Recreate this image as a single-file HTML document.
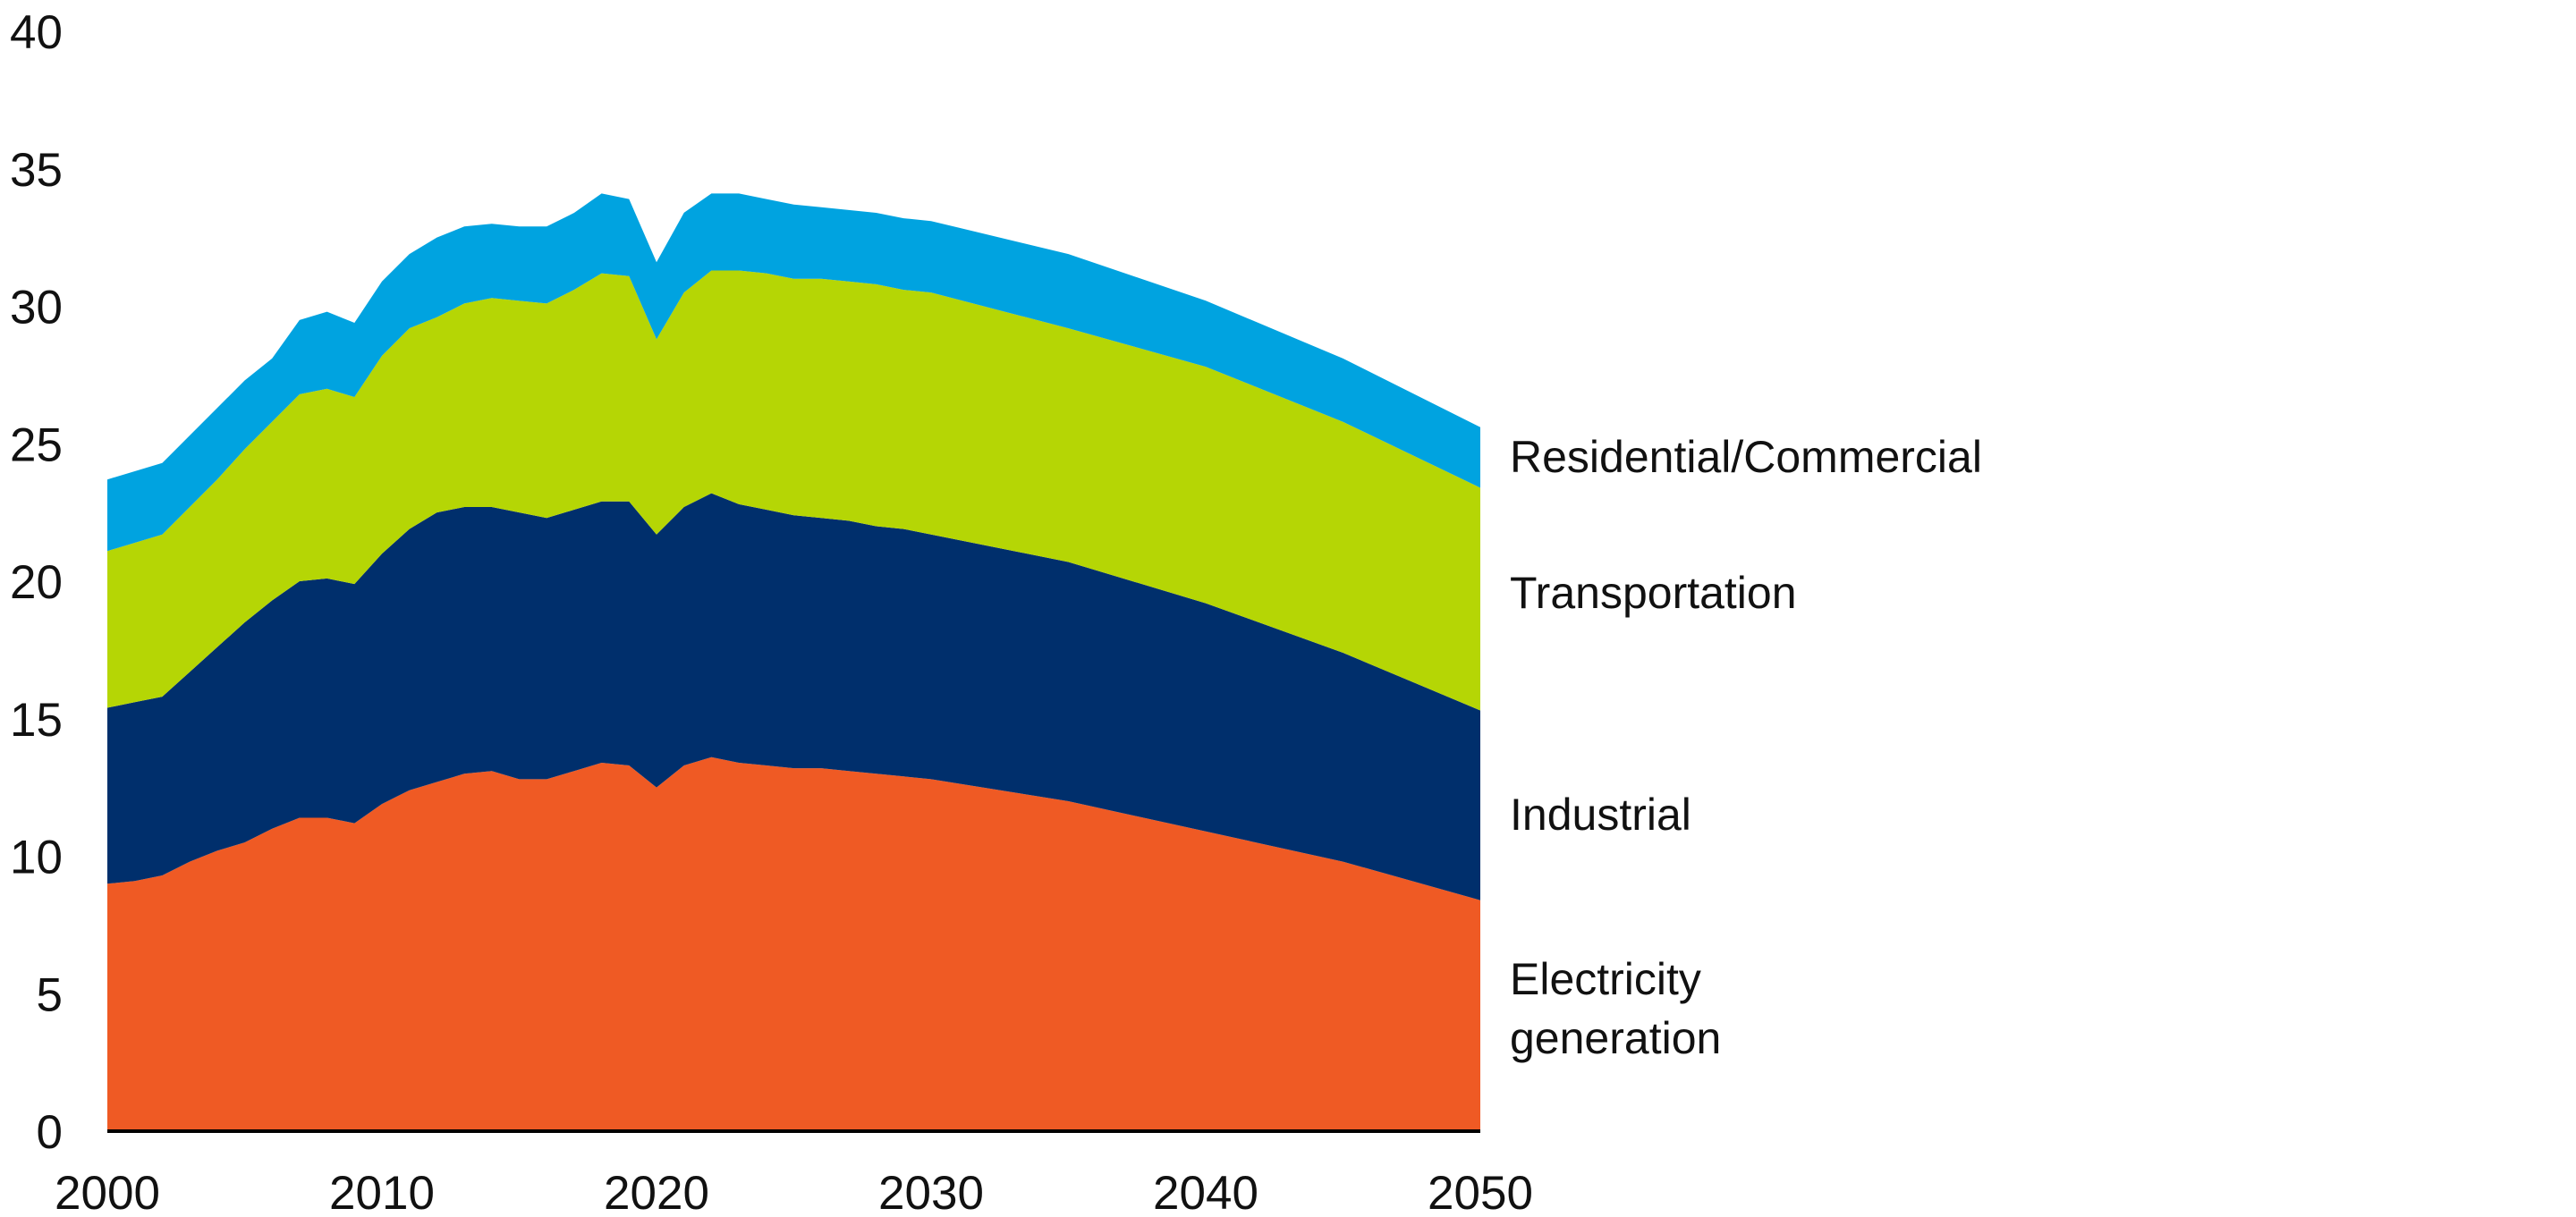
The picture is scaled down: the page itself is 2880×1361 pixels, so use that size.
<!DOCTYPE html>
<html><head><meta charset="utf-8"><style>
html,body{margin:0;padding:0;background:#fff;}
svg{display:block;font-family:"Liberation Sans",sans-serif;}
</style></head><body>
<svg id="chart" width="2880" height="1361" viewBox="0 0 2880 1361" xmlns="http://www.w3.org/2000/svg">
<g id="areas"></g>
<line x1="120" x2="1655" y1="1265" y2="1265" stroke="#000" stroke-width="4"/>
<g id="yticks"></g>
<g id="xticks"></g>
<g font-size="50" fill="#111">
<text x="1688" y="528">Residential/Commercial</text>
<text x="1688" y="680">Transportation</text>
<text x="1688" y="928">Industrial</text>
<text x="1688" y="1112">Electricity</text>
<text x="1688" y="1178">generation</text>
</g>
</svg>
<script>
const years = [2000,2001,2002,2003,2004,2005,2006,2007,2008,2009,2010,2011,2012,2013,2014,2015,2016,2017,2018,2019,2020,2021,2022,2023,2024,2025,2026,2027,2028,2029,2030,2035,2040,2045,2050];
const electricity = [9.0,9.1,9.3,9.8,10.2,10.5,11.0,11.4,11.4,11.2,11.9,12.4,12.7,13.0,13.1,12.8,12.8,13.1,13.4,13.3,12.5,13.3,13.6,13.4,13.3,13.2,13.2,13.1,13.0,12.9,12.8,12.0,10.9,9.8,8.4];
const industrial = [6.4,6.5,6.5,6.9,7.4,8.0,8.3,8.6,8.7,8.7,9.1,9.5,9.8,9.7,9.6,9.7,9.5,9.5,9.5,9.6,9.2,9.4,9.6,9.4,9.3,9.2,9.1,9.1,9.0,9.0,8.9,8.7,8.3,7.6,6.9];
const transportation = [5.7,5.8,5.9,6.0,6.1,6.3,6.5,6.8,6.9,6.8,7.2,7.3,7.1,7.4,7.6,7.7,7.8,8.0,8.3,8.2,7.1,7.8,8.1,8.5,8.6,8.6,8.7,8.7,8.8,8.7,8.8,8.5,8.6,8.4,8.1];
const residential = [2.6,2.6,2.6,2.6,2.6,2.5,2.3,2.7,2.8,2.7,2.7,2.7,2.9,2.8,2.7,2.7,2.8,2.8,2.9,2.8,2.8,2.9,2.8,2.8,2.7,2.7,2.6,2.6,2.6,2.6,2.6,2.7,2.4,2.3,2.2];
const yTicks = [0,5,10,15,20,25,30,35,40];
const xTicks = [2000,2010,2020,2030,2040,2050];

const NS="http://www.w3.org/2000/svg";
const x = v => 120 + (v-2000)*(1655-120)/50;
const y = v => 1265 - v*30.75;
const series = [
  {name:'area-electricity-generation', vals:electricity, color:'#EF5A24'},
  {name:'area-industrial', vals:industrial, color:'#002F6C'},
  {name:'area-transportation', vals:transportation, color:'#B5D605'},
  {name:'area-residential-commercial', vals:residential, color:'#00A3E0'}
];
const areas=document.getElementById('areas');
let base = years.map(()=>0);
series.forEach(s=>{
  const top = base.map((b,i)=>b+s.vals[i]);
  let d = years.map((yr,i)=>(i?'L':'M')+x(yr).toFixed(1)+','+y(top[i]).toFixed(1)).join('');
  for(let i=years.length-1;i>=0;i--) d+='L'+x(years[i]).toFixed(1)+','+y(base[i]).toFixed(1);
  d+='Z';
  const p=document.createElementNS(NS,'path');
  p.setAttribute('d',d);
  p.setAttribute('fill',s.color);
  
  
  areas.appendChild(p);
  base = top;
});
const yt=document.getElementById('yticks');
yTicks.forEach(v=>{
  const t=document.createElementNS(NS,'text');
  t.setAttribute('x',70);
  t.setAttribute('y',y(v)+19);
  t.setAttribute('text-anchor','end');
  t.setAttribute('font-size','53');
  t.setAttribute('fill','#111');
  
  
  t.textContent=v;
  yt.appendChild(t);
});
const xt=document.getElementById('xticks');
xTicks.forEach(v=>{
  const t=document.createElementNS(NS,'text');
  t.setAttribute('x',x(v));
  t.setAttribute('y',1352);
  t.setAttribute('text-anchor','middle');
  t.setAttribute('font-size','53');
  t.setAttribute('fill','#111');
  
  
  t.textContent=v;
  xt.appendChild(t);
});
</script>
</body></html>
